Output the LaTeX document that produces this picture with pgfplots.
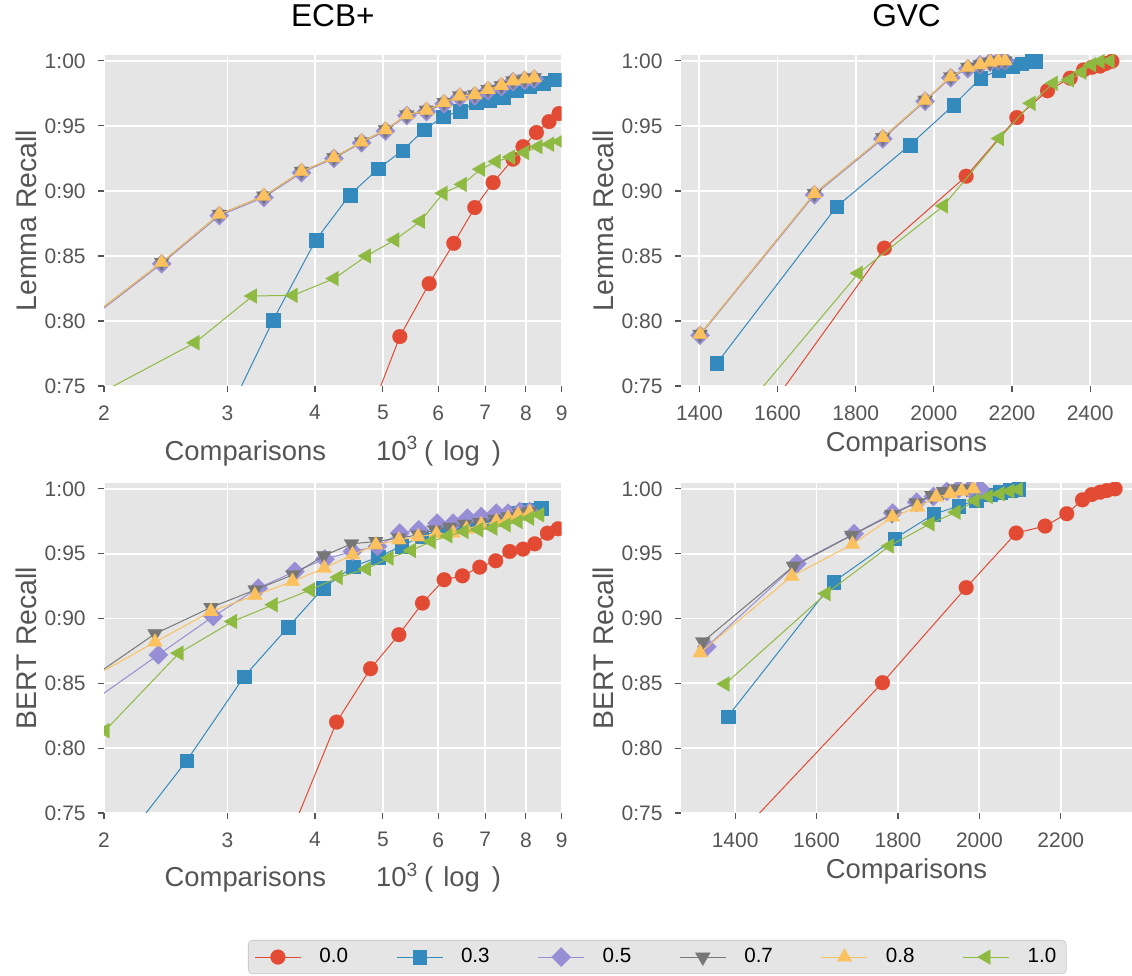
\documentclass[border=0pt]{standalone}
\usepackage{fontspec}
\setmainfont{Liberation Sans}
\usepackage{pgfplots}
\pgfplotsset{compat=1.18}

\definecolor{ggbg}{HTML}{E5E5E5}
\definecolor{ggtext}{HTML}{555555}
\definecolor{ggred}{HTML}{E24A33}
\definecolor{ggblue}{HTML}{348ABD}
\definecolor{ggpurple}{HTML}{988ED5}
\definecolor{gggray}{HTML}{777777}
\definecolor{ggyellow}{HTML}{FBC15E}
\definecolor{gggreen}{HTML}{8EBA42}

\pgfplotsset{
  gg/.style={
    scale only axis,
    axis background/.style={fill=ggbg},
    axis line style={draw=none},
    grid=major,
    major grid style={white, line width=0.9pt},
    tick align=outside, tick pos=left,
    major tick length=3pt,
    tick style={color=ggtext, line width=0.6pt},
    tick label style={font=\fontsize{10.5}{12}\selectfont, text=ggtext},
    xticklabel style={anchor=north, inner sep=0pt, yshift=-6.5pt},
    yticklabel style={anchor=east, inner sep=0pt, xshift=-6pt},
    label style={font=\fontsize{14.2}{16}\selectfont, text=ggtext},
    xlabel style={font=\fontsize{13.7}{16}\selectfont},
    title style={font=\fontsize{15.8}{18}\selectfont, at={(axis description cs:0.5,1)}, anchor=base, yshift=8pt},
    ymin=0.75, ymax=1.0045,
    ytick={0.75,0.80,0.85,0.90,0.95,1.00},
    yticklabels={0:75,0:80,0:85,0:90,0:95,1:00},
    clip marker paths=true,
    every axis plot/.append style={line width=0.5pt},
    legend image code/.code={\draw[mark repeat=2,mark phase=2] plot coordinates {(0pt,0pt) (11.5pt,0pt) (23pt,0pt)};},
  },
  ecbx/.style={
    xmin=2, xmax=9,
    xtick={2,3,4,5,6,7,8,9}, xticklabels={2,3,4,5,6,7,8,9},
    minor xtick={},
    width=228.85pt,
    xlabel={Comparisons\hspace{25pt}10\textsuperscript{3}\hspace{3pt}(\hspace{5pt}log\hspace{6pt})},
    xlabel style={at={(axis description cs:0.5,-0.2236)}, anchor=base},
    ylabel style={at={(axis description cs:-0.1475,0.5)}, anchor=base},
  },
  gvcx/.style={
    width=225.5pt,
    xlabel={Comparisons},
    xlabel style={at={(axis description cs:0.5,-0.1994)}, anchor=base},
    ylabel style={at={(axis description cs:-0.1497,0.5)}, anchor=base},
  },
  s0/.style={ggred, mark=*, mark size=3.7pt, mark options={solid, fill=ggred, draw=ggred, line width=0.1pt}},
  s3/.style={ggblue, mark=square*, mark size=3.4pt, mark options={solid, fill=ggblue, draw=ggblue, line width=0.1pt}},
  s5/.style={ggpurple, mark=square*, mark size=3.4pt, mark options={solid, rotate=45, fill=ggpurple, draw=ggpurple, line width=0.1pt}},
  s7/.style={gggray, mark=triangle*, mark size=4.3pt, mark options={solid, rotate=180, fill=gggray, draw=gggray, line width=0.1pt}},
  s8/.style={ggyellow, mark=triangle*, mark size=4.3pt, mark options={solid, fill=ggyellow, draw=ggyellow, line width=0.1pt}},
  s10/.style={gggreen, mark=triangle*, mark size=4.3pt, mark options={solid, rotate=90, fill=gggreen, draw=gggreen, line width=0.1pt}},
}

\begin{document}
\begin{tikzpicture}
\useasboundingbox (0,0) rectangle (566pt,488pt);

% ECB+ lemma
\begin{axis}[xmode=log, gg, ecbx, at={(52pt,295pt)}, anchor=south west, height=165.5pt,
  title={ECB+}, ylabel={Lemma Recall}]
\addplot[s0] coordinates {(4.5,0.690) (5.287,0.788) (5.822,0.8287) (6.313,0.8597) (6.764,0.8872) (7.183,0.9064) (7.670,0.9244) (7.927,0.934) (8.282,0.9449) (8.634,0.9533) (8.922,0.9595)};
\addplot[s3] coordinates {(2.9,0.711) (3.488,0.8008) (4.012,0.8623) (4.487,0.897) (4.924,0.917) (5.333,0.931) (5.727,0.947) (6.096,0.957) (6.452,0.9615) (6.8,0.968) (7.106,0.970) (7.42,0.972) (7.755,0.977) (8.10,0.9805) (8.466,0.983) (8.795,0.9856) (9.05,0.9865)};
\addplot[s5] coordinates {(1.8,0.791) (2.417,0.844) (2.921,0.881) (3.382,0.895) (3.828,0.914) (4.257,0.925) (4.662,0.937) (5.044,0.946) (5.41,0.958) (5.771,0.961) (6.116,0.967) (6.438,0.972) (6.764,0.973) (7.066,0.977) (7.382,0.980) (7.670,0.984) (7.97,0.985) (8.22,0.986)};
\addplot[s7] coordinates {(1.8,0.792) (2.417,0.845) (2.921,0.882) (3.382,0.896) (3.828,0.915) (4.257,0.9256) (4.662,0.9377) (5.044,0.947) (5.41,0.9585) (5.771,0.962) (6.116,0.968) (6.438,0.973) (6.764,0.974) (7.066,0.978) (7.382,0.981) (7.670,0.9846) (7.97,0.986) (8.22,0.987)};
\addplot[s8] coordinates {(1.8,0.792) (2.417,0.845) (2.921,0.882) (3.382,0.896) (3.828,0.915) (4.257,0.9256) (4.662,0.9377) (5.044,0.947) (5.41,0.9585) (5.771,0.962) (6.116,0.968) (6.438,0.973) (6.764,0.974) (7.066,0.978) (7.382,0.981) (7.670,0.9846) (7.97,0.986) (8.22,0.987)};
\addplot[s10] coordinates {(1.8,0.733) (2.697,0.7833) (3.259,0.8192) (3.724,0.8197) (4.261,0.8326) (4.739,0.85) (5.201,0.8623) (5.658,0.8767) (6.096,0.8982) (6.495,0.905) (6.898,0.9167) (7.262,0.9226) (7.612,0.926) (7.97,0.9295) (8.328,0.934) (8.652,0.9359) (8.942,0.938)};
\end{axis}

% GVC lemma
\begin{axis}[gg, gvcx, at={(340.5pt,295pt)}, anchor=south west, height=165.5pt,
  xmin=1353, xmax=2507, xtick={1400,1600,1800,2000,2200,2400},
  xticklabels={1400,1600,1800,2000,2200,2400},
  title={GVC}, ylabel={Lemma Recall}]
\addplot[s0] coordinates {(1500,0.700) (1873.5,0.856) (2082.6,0.9113) (2212.3,0.9564) (2290.8,0.977) (2348.8,0.9867) (2383,0.993) (2404,0.995) (2425.6,0.996) (2440,0.998) (2455.5,0.9997)};
\addplot[s3] coordinates {(1444.4,0.7674) (1751.5,0.888) (1939.2,0.9354) (2050.2,0.9659) (2120,0.9867) (2165.4,0.9928) (2199.5,0.996) (2225,0.998) (2250.7,1.0) (2260,1.0)};
\addplot[s5] coordinates {(1401.7,0.789) (1694.4,0.897) (1869.3,0.940) (1977.6,0.969) (2043.3,0.987) (2086.9,0.994) (2118.4,0.997) (2144,0.999) (2165,1.0) (2182,1.0)};
\addplot[s7] coordinates {(1401.7,0.7897) (1694.4,0.898) (1869.3,0.941) (1977.6,0.9697) (2043.3,0.9877) (2086.9,0.995) (2118.4,0.997) (2144,0.999) (2165,1.0) (2182,1.0)};
\addplot[s8] coordinates {(1401.7,0.7897) (1694.4,0.898) (1869.3,0.941) (1977.6,0.9697) (2043.3,0.9877) (2086.9,0.995) (2118.4,0.997) (2144,0.999) (2165,1.0) (2182,1.0)};
\addplot[s10] coordinates {(1500,0.727) (1807,0.8367) (2024.6,0.8885) (2168,0.9403) (2249,0.9674) (2306,0.9828) (2347,0.9854) (2378.7,0.9913) (2404,0.997) (2425.6,0.9995) (2451,1.0)};
\end{axis}

% ECB+ BERT
\begin{axis}[xmode=log, gg, ecbx, at={(52pt,81.5pt)}, anchor=south west, height=165pt,
  ylabel={BERT Recall},
  legend columns=6, legend cell align=left,
  legend style={at={(axis description cs:0.3146,-0.3848)}, anchor=north west,
    fill=ggbg, draw=black!20, rounded corners=2pt,
    font=\fontsize{10.3}{12}\selectfont, text=black,
    /tikz/every odd column/.append style={column sep=7pt},
    /tikz/every even column/.append style={column sep=22pt}}]
\addplot[s0] coordinates {(3.5,0.703) (4.294,0.8201) (4.801,0.8613) (5.27,0.8875) (5.695,0.9119) (6.116,0.9299) (6.495,0.9329) (6.875,0.9396) (7.246,0.9445) (7.587,0.9517) (7.927,0.9535) (8.237,0.9576) (8.587,0.9658) (8.893,0.9692)};
\addplot[s3] coordinates {(1.8,0.6765) (2.624,0.7903) (3.171,0.8553) (3.664,0.8934) (4.110,0.9234) (4.536,0.9401) (4.924,0.9473) (5.316,0.956) (5.677,0.9633) (6.029,0.9684) (6.368,0.971) (6.68,0.9748) (7.028,0.9761) (7.34,0.9787) (7.67,0.9812) (8.01,0.9838) (8.418,0.9851)};
\addplot[s5] coordinates {(1.8,0.825) (2.391,0.872) (2.864,0.9016) (3.320,0.9234) (3.745,0.9363) (4.133,0.9458) (4.526,0.9517) (4.913,0.9556) (5.287,0.9658) (5.627,0.9684) (5.976,0.9735) (6.299,0.9735) (6.60,0.9774) (6.91,0.9786) (7.26,0.9812) (7.546,0.9812) (7.842,0.9825) (8.10,0.9825)};
\addplot[s7] coordinates {(1.8,0.844) (2.365,0.8882) (2.842,0.9085) (3.287,0.9221) (3.724,0.9337) (4.119,0.9484) (4.511,0.9576) (4.886,0.9594) (5.27,0.962) (5.615,0.9645) (5.931,0.9684) (6.230,0.9704) (6.545,0.9727) (6.875,0.974) (7.223,0.9766) (7.546,0.9786) (7.842,0.9812) (8.10,0.9825)};
\addplot[s8] coordinates {(1.8,0.846) (2.365,0.8818) (2.842,0.9054) (3.284,0.9178) (3.716,0.9286) (4.124,0.9388) (4.526,0.9491) (4.886,0.9568) (5.27,0.9607) (5.615,0.963) (5.963,0.9653) (6.299,0.9658) (6.58,0.9689) (6.91,0.9723) (7.26,0.9748) (7.546,0.9774) (7.80,0.980) (8.10,0.9818)};
\addplot[s10] coordinates {(2.0066,0.8135) (2.559,0.8733) (3.052,0.8977) (3.488,0.9106) (3.943,0.9221) (4.318,0.9317) (4.739,0.9383) (5.105,0.9466) (5.493,0.9525) (5.866,0.9594) (6.196,0.9637) (6.531,0.9671) (6.853,0.9684) (7.18,0.9697) (7.505,0.9722) (7.80,0.9748) (8.10,0.9774) (8.373,0.98)};
\legend{0.0,0.3,0.5,0.7,0.8,1.0}
\end{axis}

% GVC BERT
\begin{axis}[gg, gvcx, at={(340.5pt,81.5pt)}, anchor=south west, height=165pt,
  xmin=1267, xmax=2375, xtick={1400,1600,1800,2000,2200},
  xticklabels={1400,1600,1800,2000,2200},
  ylabel={BERT Recall}]
\addplot[s0] coordinates {(1400,0.730) (1761.9,0.8505) (1967.5,0.9238) (2090.3,0.9659) (2161.5,0.9713) (2214.7,0.9808) (2253.2,0.9915) (2276,0.9956) (2296.6,0.9974) (2313,0.9987) (2333.5,1.0)};
\addplot[s3] coordinates {(1382,0.8244) (1641.6,0.9282) (1791.4,0.9615) (1887.2,0.9803) (1948.6,0.9867) (1992,0.991) (2026.4,0.9954) (2051,0.9974) (2075.5,0.999) (2096,1.0)};
\addplot[s5] coordinates {(1330.4,0.8782) (1551.5,0.9423) (1692.3,0.9654) (1787.3,0.9813) (1846.3,0.9897) (1887.2,0.9941) (1920,0.998) (1948.6,1.0) (1977,1.0) (2001.8,1.0)};
\addplot[s7] coordinates {(1320.6,0.882) (1543.3,0.9403) (1686.6,0.9641) (1784.9,0.98) (1844.6,0.9892) (1883.1,0.9949) (1911.8,0.998) (1940,1.0) (1969,1.0)};
\addplot[s8] coordinates {(1314,0.8736) (1539.2,0.9326) (1688.2,0.9572) (1786.5,0.9782) (1847.9,0.9859) (1893.8,0.9936) (1928.1,0.9962) (1956.8,0.9982) (1985,1.0)};
\addplot[s10] coordinates {(1375.4,0.8495) (1623.5,0.9192) (1779.1,0.9559) (1879,0.9731) (1942.9,0.982) (1989.6,0.991) (2022.3,0.9941) (2051,0.9962) (2075.5,0.9982) (2096,0.9995)};
\end{axis}
\end{tikzpicture}
\end{document}
